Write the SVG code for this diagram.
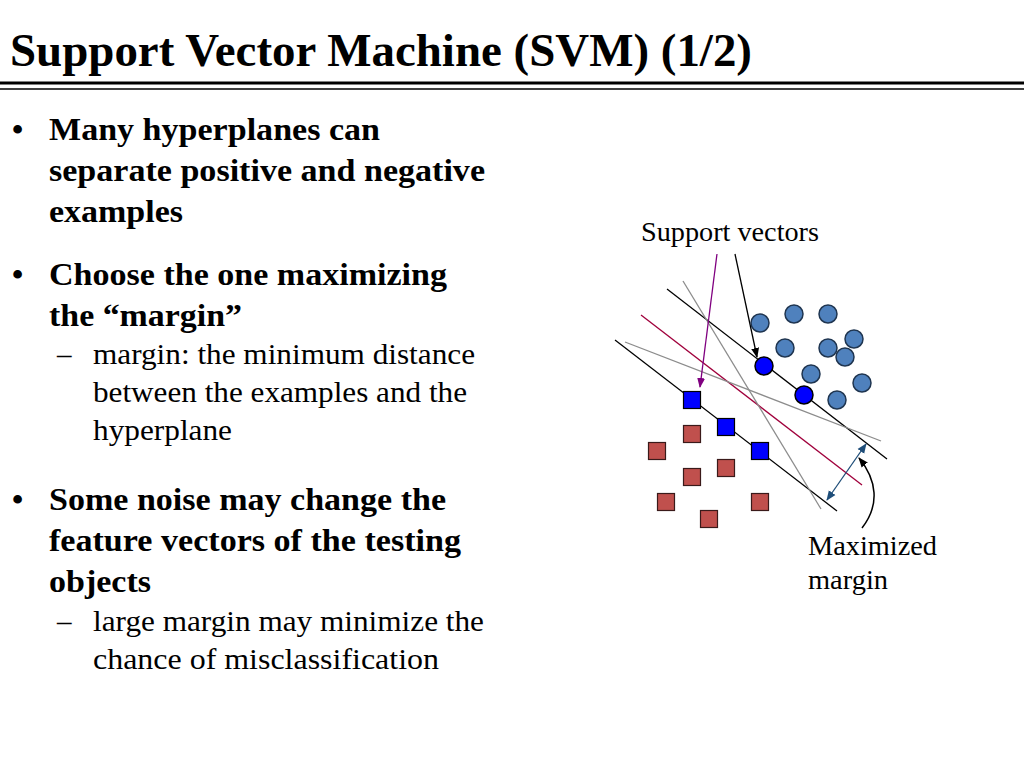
<svg xmlns="http://www.w3.org/2000/svg" width="1024" height="768" viewBox="0 0 1024 768">
<defs>
<style>
text{font-family:"Liberation Serif","Times New Roman",serif;fill:#000}
.t{font-size:46px;font-weight:bold}
.b{font-size:32px;font-weight:bold}
.s{font-size:29px}
.l{font-size:27px}
.c{fill:#4f81bd;stroke:#1f3550;stroke-width:1.5}
.cd{fill:#0000ff;stroke:#000;stroke-width:1.5}
.sq{fill:#c0504d;stroke:#3a1a1a;stroke-width:1.2}
.sd{fill:#0000ff;stroke:#000;stroke-width:1.2}
</style>
<marker id="ak" markerWidth="10" markerHeight="10" refX="9" refY="5" orient="auto" markerUnits="userSpaceOnUse"><path d="M0,1 L10,5 L0,9z" fill="#000"/></marker>
<marker id="ap" markerWidth="10" markerHeight="10" refX="9" refY="5" orient="auto" markerUnits="userSpaceOnUse"><path d="M0,1 L10,5 L0,9z" fill="#800080"/></marker>
<marker id="ab" markerWidth="10" markerHeight="10" refX="9" refY="5" orient="auto-start-reverse" markerUnits="userSpaceOnUse"><path d="M0,1 L10,5 L0,9z" fill="#1f4e79"/></marker>
</defs>
<rect width="1024" height="768" fill="#fff"/>
<text class="t" x="10" y="66" textLength="742" lengthAdjust="spacingAndGlyphs">Support Vector Machine (SVM) (1/2)</text>
<line x1="0" y1="83" x2="1024" y2="83" stroke="#000" stroke-width="3"/>
<line x1="0" y1="89" x2="1024" y2="89" stroke="#000" stroke-width="1.5"/>
<g id="text">
<text class="b" x="12" y="140">•</text>
<text class="b" x="49" y="140" textLength="331" lengthAdjust="spacingAndGlyphs">Many hyperplanes can</text>
<text class="b" x="49" y="181" textLength="436" lengthAdjust="spacingAndGlyphs">separate positive and negative</text>
<text class="b" x="49" y="222" textLength="134" lengthAdjust="spacingAndGlyphs">examples</text>
<text class="b" x="12" y="285">•</text>
<text class="b" x="49" y="285" textLength="398" lengthAdjust="spacingAndGlyphs">Choose the one maximizing</text>
<text class="b" x="49" y="326" textLength="193" lengthAdjust="spacingAndGlyphs">the “margin”</text>
<text class="s" x="57" y="364">–</text>
<text class="s" x="93" y="364" textLength="382" lengthAdjust="spacingAndGlyphs">margin: the minimum distance</text>
<text class="s" x="93" y="402" textLength="374" lengthAdjust="spacingAndGlyphs">between the examples and the</text>
<text class="s" x="93" y="440" textLength="139" lengthAdjust="spacingAndGlyphs">hyperplane</text>
<text class="b" x="12" y="510">•</text>
<text class="b" x="49" y="510" textLength="397" lengthAdjust="spacingAndGlyphs">Some noise may change the</text>
<text class="b" x="49" y="551" textLength="412" lengthAdjust="spacingAndGlyphs">feature vectors of the testing</text>
<text class="b" x="49" y="592" textLength="102" lengthAdjust="spacingAndGlyphs">objects</text>
<text class="s" x="57" y="631">–</text>
<text class="s" x="93" y="631" textLength="391" lengthAdjust="spacingAndGlyphs">large margin may minimize the</text>
<text class="s" x="93" y="669" textLength="346" lengthAdjust="spacingAndGlyphs">chance of  misclassification</text>
</g>
<g id="labels">
<text class="l" x="641" y="241" textLength="178" lengthAdjust="spacingAndGlyphs">Support vectors</text>
<text class="l" x="808" y="555" textLength="129" lengthAdjust="spacingAndGlyphs">Maximized</text>
<text class="l" x="808" y="589" textLength="80" lengthAdjust="spacingAndGlyphs">margin</text>
</g>
<g id="connectors" fill="none">
<line x1="667" y1="289" x2="887" y2="459" stroke="#000" stroke-width="1.3"/>
<line x1="615" y1="340" x2="837" y2="511" stroke="#000" stroke-width="1.3"/>
<line x1="641" y1="315" x2="862" y2="485" stroke="#a0003c" stroke-width="1.3"/>
<line x1="683" y1="281" x2="821" y2="509" stroke="#8c8c8c" stroke-width="1.3"/>
<line x1="625" y1="342" x2="881" y2="441" stroke="#8c8c8c" stroke-width="1.3"/>
<line x1="717" y1="254" x2="700" y2="387" stroke="#800080" stroke-width="1.3" marker-end="url(#ap)"/>
<line x1="735" y1="254" x2="757" y2="357" stroke="#000" stroke-width="1.3" marker-end="url(#ak)"/>
<line x1="866" y1="444" x2="827" y2="500" stroke="#1f4e79" stroke-width="1.3" marker-start="url(#ab)" marker-end="url(#ab)"/>
<path d="M862,528 C880,505 877,480 859,458" stroke="#000" stroke-width="1.5" marker-end="url(#ak)"/>
</g>
<g id="points">
<circle class="c" cx="760" cy="323" r="9"/>
<circle class="c" cx="794" cy="314" r="9"/>
<circle class="c" cx="828" cy="314" r="9"/>
<circle class="c" cx="854" cy="339" r="9"/>
<circle class="c" cx="785" cy="348" r="9"/>
<circle class="c" cx="828" cy="348" r="9"/>
<circle class="c" cx="845" cy="357" r="9"/>
<circle class="c" cx="811" cy="374" r="9"/>
<circle class="c" cx="862" cy="383" r="9"/>
<circle class="c" cx="837" cy="400" r="9"/>
<circle class="cd" cx="764" cy="366" r="9"/>
<circle class="cd" cx="804" cy="395" r="9"/>
<rect class="sd" x="683.5" y="391.5" width="17" height="17"/>
<rect class="sd" x="717.5" y="418.5" width="17" height="17"/>
<rect class="sd" x="751.5" y="442.5" width="17" height="17"/>
<rect class="sq" x="683.5" y="425.5" width="17" height="17"/>
<rect class="sq" x="648.5" y="442.5" width="17" height="17"/>
<rect class="sq" x="717.5" y="459.5" width="17" height="17"/>
<rect class="sq" x="683.5" y="468.5" width="17" height="17"/>
<rect class="sq" x="657.5" y="493.5" width="17" height="17"/>
<rect class="sq" x="751.5" y="493.5" width="17" height="17"/>
<rect class="sq" x="700.5" y="510.5" width="17" height="17"/>
</g>
</svg>
